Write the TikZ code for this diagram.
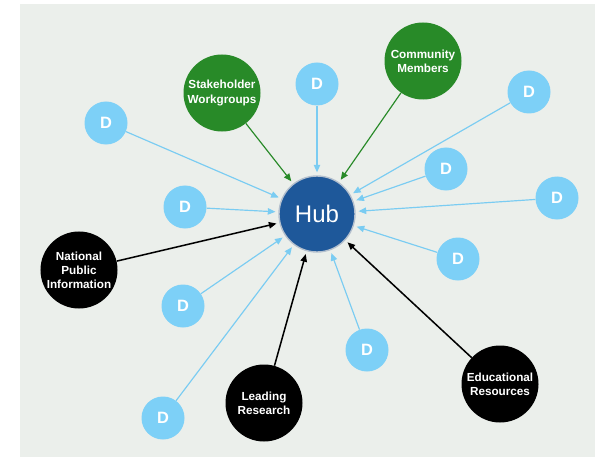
\documentclass[tikz,border=0pt]{standalone}
\usepackage{fontspec}
\setmainfont{Liberation Sans}
\usetikzlibrary{arrows.meta}

\definecolor{panelbg}{RGB}{235,239,235}
\definecolor{hubblue}{RGB}{30,88,154}
\definecolor{hubrim}{RGB}{180,192,206}
\definecolor{dblue}{RGB}{125,208,247}
\definecolor{dline}{RGB}{122,204,242}
\definecolor{grpgreen}{RGB}{40,138,40}

\tikzset{
  hubnode/.style={circle, fill=hubblue, draw=hubrim, line width=1.2pt,
    minimum size=2.28cm, inner sep=0pt, text=white,
    font=\fontsize{20.5}{22}\selectfont},
  dnode/.style={circle, fill=dblue, minimum size=1.29cm, inner sep=0pt,
    text=white, font=\fontsize{14}{16}\selectfont\bfseries},
  bignode/.style={circle, minimum size=2.31cm, inner sep=0pt, text=white,
    align=center, font=\fontsize{10}{12}\selectfont\bfseries},
  greennode/.style={bignode, fill=grpgreen},
  blacknode/.style={bignode, fill=black},
  link/.style={line width=1pt, shorten >=2.5pt,
    -{Triangle[length=6.5pt,width=5.5pt]}},
  dlink/.style={link, draw=dline},
  glink/.style={link, draw=grpgreen},
  klink/.style={link, draw=black, line width=1.3pt},
}

\begin{document}
\begin{tikzpicture}[x=0.03cm, y=-0.03cm]
  \useasboundingbox (0,0) rectangle (599,457);
  \fill[panelbg] (20,4) rectangle (595,457);

  % central hub
  \node[hubnode] (hub) at (317,214) {Hub};

  % working groups
  \node[greennode] (stake) at (222,93) {Stakeholder\\Workgroups};
  \node[greennode] (comm) at (423,61) {Community\\Members};

  % information sources
  \node[blacknode] (npi) at (79,270) {National\\Public\\Information};
  \node[blacknode] (lead) at (264,403) {Leading\\Research};
  \node[blacknode] (edu) at (500,384) {Educational\\Resources};

  % data nodes
  \node[dnode] (d1) at (106,123) {D};
  \node[dnode] (d2) at (317,84) {D};
  \node[dnode] (d3) at (529,92) {D};
  \node[dnode] (d4) at (446,169) {D};
  \node[dnode] (d5) at (557,198) {D};
  \node[dnode] (d6) at (185,207) {D};
  \node[dnode] (d7) at (458,259) {D};
  \node[dnode] (d8) at (183,306) {D};
  \node[dnode] (d9) at (367,350) {D};
  \node[dnode] (d10) at (163,418) {D};

  % connectors into the hub
  \foreach \d in {d1,d2,d3,d4,d5,d6,d7,d8,d9,d10}
    \draw[dlink] (\d) -- (hub);
  \draw[glink] (stake) -- (hub);
  \draw[glink] (comm) -- (hub);
  \draw[klink] (npi) -- (hub);
  \draw[klink] (lead) -- (hub);
  \draw[klink] (edu) -- (hub);
\end{tikzpicture}
\end{document}
